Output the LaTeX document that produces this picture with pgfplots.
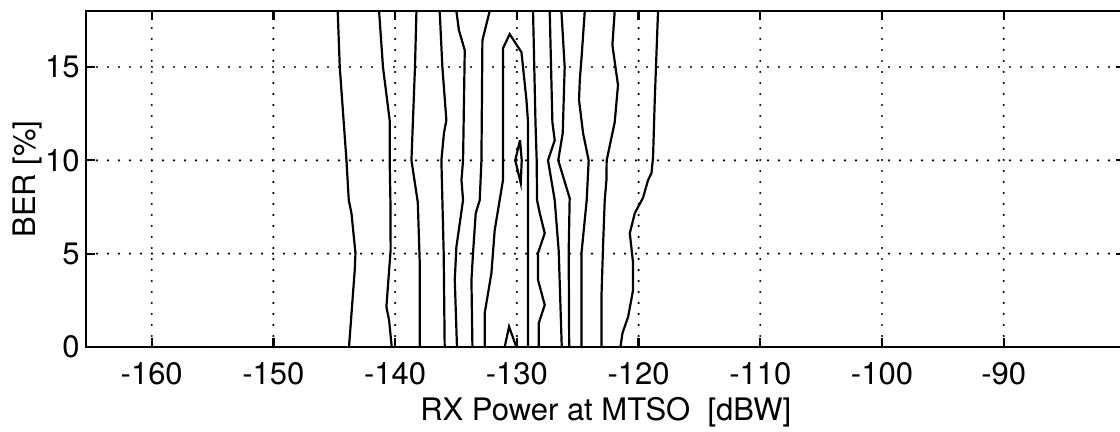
\documentclass[border=0pt]{standalone}
\usepackage{fontspec}
\setmainfont{TeX Gyre Heros}
\usepackage{pgfplots}
\pgfplotsset{compat=1.18}
\tikzset{cont/.style={black, solid, line width=1.1pt, mark=none, sharp plot}}
\begin{document}
\begin{tikzpicture}[font=\fontsize{15.5}{18.6}\selectfont]
\begin{axis}[
  at={(0,0)}, anchor=south west,
  scale only axis,
  width=519.7pt, height=168pt,
  xmin=-165.4, xmax=-80,
  ymin=0, ymax=18,
  xtick={-160,-150,-140,-130,-120,-110,-100,-90},
  ytick={0,5,10,15},
  /pgf/number format/assume math mode=true,
  tick label style={font=\fontsize{15.5}{18.6}\selectfont},
  xticklabel style={inner sep=0pt, yshift=-7.5pt},
  yticklabel style={inner sep=0pt, xshift=-3pt},
  tick align=inside, tick pos=both,
  major tick length=4.5pt,
  tick style={black, line width=1.1pt},
  axis line style={black, line width=1.1pt},
  grid=major,
  major grid style={black, line width=1.2pt, line cap=round, dash pattern=on 0pt off 5.5pt},
  every axis x label/.style={at={(axis description cs:0.5,0)}, anchor=north, yshift=-25pt, inner sep=0pt, font=\fontsize{15.5}{18.6}\selectfont},
  every axis y label/.style={at={([xshift=-22pt]axis description cs:0,0.5)}, rotate=90, anchor=south, inner sep=0pt, font=\fontsize{15.5}{18.6}\selectfont},
  xlabel={RX Power at MTSO\ \ [dBW]},
  ylabel={BER [\%]},
]
% A
\addplot[cont] coordinates {(-144.72,18) (-144.55,15) (-144.0,10) (-143.81,7.87) (-143.59,7.17) (-143.26,5.03) (-143.32,4.12) (-143.79,0)};
% B
\addplot[cont] coordinates {(-141.32,18) (-141.0,15) (-140.45,12.15) (-140.45,10) (-140.39,7.87) (-140.37,5.2) (-140.72,2.14) (-140.5,1.45) (-140.28,0)};
% C
\addplot[cont] coordinates {(-138.25,18) (-138.37,15) (-138.66,10) (-138.14,7.76) (-137.98,4.55) (-137.98,0)};
% D
\addplot[cont] coordinates {(-136.34,18) (-136.12,15) (-135.79,12.15) (-135.99,11.46) (-136.2,10) (-136.01,5) (-135.93,0)};
% E
\addplot[cont] coordinates {(-134.97,18) (-134.76,16.97) (-134.28,15.9) (-134.42,10) (-134.55,8.94) (-134.42,7.87) (-134.97,5.35) (-135.1,3.59) (-134.92,0)};
% F
\addplot[cont] coordinates {(-132.23,18) (-132.83,16.43) (-132.91,10) (-133.05,7.87) (-133.38,7.17) (-133.6,5.03) (-133.73,3.59) (-133.65,0)};
% inverted U
\addplot[cont] coordinates {(-132.64,0) (-132.64,1.82) (-132.09,3.96) (-131.82,6.26) (-131.14,8.94) (-131.14,12.42) (-131.14,16.0) (-130.59,16.76) (-129.62,15.79) (-129.21,13.22) (-129.08,12.04) (-129.08,0)};
% small loop
\addplot[cont] coordinates {(-129.74,11.08) (-129.6,10.0) (-129.68,8.78) (-130.13,10.0) (-129.74,11.08)};
% small hump
\addplot[cont] coordinates {(-131.0,0) (-130.64,1.09) (-130.04,0)};
% I'
\addplot[cont] coordinates {(-128.67,18) (-128.47,12.04) (-128.37,10) (-128.34,7.87) (-128.12,7.17) (-127.71,6.1) (-128.26,5.03) (-128.26,3.59) (-127.71,2.25) (-128.2,1.28) (-128.2,0)};
% J
\addplot[cont] coordinates {(-127.3,18) (-127.08,12.04) (-126.89,11.08) (-127.44,10) (-126.89,7.87) (-126.56,5.14) (-126.31,0)};
% K
\addplot[cont] coordinates {(-126.34,18) (-126.07,15) (-126.23,11.46) (-126.6,10) (-125.66,7.97) (-125.74,5.14) (-125.7,0)};
% L
\addplot[cont] coordinates {(-124.42,18) (-124.67,15.63) (-124.83,14.29) (-124.89,13.22) (-124.56,11.46) (-124.1,10) (-124.26,7.87) (-124.69,5.03) (-124.69,0)};
% M
\addplot[cont] coordinates {(-121.96,18) (-122.15,16.17) (-121.69,14.03) (-121.96,12.04) (-122.62,10.0) (-122.64,8.94) (-122.78,7.87) (-122.92,5.35) (-123.05,2.68) (-123.05,0)};
% N
\addplot[cont] coordinates {(-118.4,18) (-118.67,13.22) (-118.81,10.17) (-118.94,9.31) (-119.22,8.94) (-119.63,8.0) (-120.31,7.17) (-120.72,6.1) (-120.45,4.5) (-120.45,3.05) (-120.86,1.61) (-121.32,0.75) (-121.49,0)};
\end{axis}
\pgfresetboundingbox
\path[use as bounding box] (-43pt,-42.5pt) rectangle (517pt,173.5pt);
\end{tikzpicture}
\end{document}
